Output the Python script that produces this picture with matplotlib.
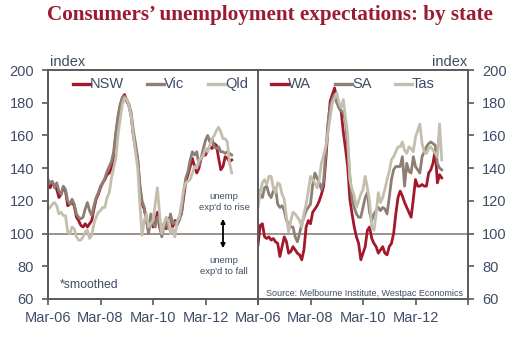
import matplotlib
matplotlib.use("Agg")
import matplotlib.pyplot as plt
from matplotlib.lines import Line2D
from matplotlib.patches import FancyArrowPatch

plt.rcParams['font.family'] = ['Liberation Sans', 'DejaVu Sans']

# months since Mar-06
months = list(range(85))
xtick_pos = [0, 24, 48, 72, 96]
xtick_labels = ['Mar-06', 'Mar-08', 'Mar-10', 'Mar-12', '']
yticks = [60, 80, 100, 120, 140, 160, 180, 200]

nsw = [130, 128, 131, 129, 127, 122, 124, 128, 126, 117,
       118, 119, 117, 110, 108, 105, 104, 106, 104, 106,
       108, 115, 121, 124, 128, 131, 133, 136, 137, 140,
       147, 160, 170, 178, 183, 185, 181, 178, 172, 160,
       152, 145, 128, 118, 115, 108, 102, 110, 104, 106,
       113, 104, 100, 106, 103, 109, 110, 104, 108, 107,
       110, 112, 122, 132, 136, 141, 146, 141, 137, 140,
       146, 148, 148, 151, 153, 152, 155, 154, 146, 139,
       141, 147, 146, 144, 145]
vic = [133, 131, 132, 128, 131, 126, 124, 129, 127, 120,
       118, 121, 118, 112, 110, 109, 110, 115, 119, 114,
       111, 117, 122, 125, 129, 131, 134, 138, 141, 144,
       150, 162, 172, 179, 183, 184, 182, 179, 174, 163,
       155, 146, 130, 120, 116, 108, 100, 112, 106, 104,
       110, 106, 98, 104, 107, 103, 112, 106, 107, 105,
       108, 112, 125, 134, 138, 145, 150, 148, 150, 142,
       146, 152, 157, 160, 156, 158, 153, 152, 153, 150,
       150, 149, 150, 149, 148]
qld = [115, 116, 118, 119, 117, 112, 113, 111, 111, 101,
       100, 104, 103, 98, 96, 96, 98, 101, 102, 97,
       99, 106, 110, 113, 114, 116, 116, 122, 125, 134,
       140, 146, 160, 170, 179, 183, 182, 178, 172, 160,
       150, 140, 118, 99, 108, 112, 104, 106, 108, 118,
       128, 112, 100, 106, 110, 108, 100, 103, 98, 107,
       110, 118, 127, 131, 132, 133, 137, 141, 140, 145,
       146, 148, 152, 150, 154, 158, 160, 163, 165, 162,
       158, 158, 156, 143, 137]
wa = [93, 105, 106, 98, 97, 98, 96, 97, 95, 94,
      86, 92, 98, 95, 88, 89, 92, 90, 88, 87,
      84, 90, 104, 108, 106, 113, 115, 117, 120, 124,
      129, 145, 165, 181, 185, 189, 183, 177, 175, 162,
      152, 141, 121, 112, 104, 98, 94, 84, 88, 92,
      102, 104, 97, 94, 92, 88, 90, 92, 88, 87,
      92, 94, 100, 112, 122, 126, 123, 119, 116, 113,
      110, 121, 133, 129, 129, 130, 129, 129, 137, 139,
      143, 151, 131, 136, 134]
sa = [127, 124, 122, 128, 129, 124, 122, 126, 128, 118,
      116, 117, 114, 108, 106, 104, 104, 98, 95, 100,
      106, 110, 114, 116, 118, 130, 137, 134, 131, 127,
      132, 150, 168, 178, 182, 185, 180, 177, 175, 174,
      169, 153, 135, 121, 116, 112, 110, 110, 116, 122,
      125, 113, 108, 112, 114, 116, 114, 116, 115, 112,
      122, 133, 139, 141, 141, 141, 147, 129, 143, 138,
      137, 147, 141, 139, 137, 147, 150, 153, 155, 156,
      155, 154, 143, 140, 139]
tas = [116, 125, 131, 133, 130, 135, 135, 128, 125, 131,
       130, 124, 121, 110, 101, 108, 113, 112, 110, 108,
       104, 112, 118, 126, 135, 133, 131, 128, 133, 143,
       148, 153, 162, 171, 180, 183, 186, 180, 177, 182,
       171, 161, 133, 127, 123, 116, 120, 124, 127, 135,
       128, 120, 104, 102, 112, 125, 119, 122, 127, 133,
       138, 145, 147, 150, 153, 153, 156, 151, 149, 153,
       152, 150, 159, 163, 167, 155, 150, 149, 152, 153,
       151, 149, 147, 167, 145]

RED = '#A3182C'
BROWN = '#8E7F75'
LIGHT = '#C3BEAD'
TXT = '#3E4C66'
SPINE = '#595959'
LW = 2.0

fig = plt.figure(figsize=(5.13, 3.46), dpi=100)
W, H = 513, 346
axL = fig.add_axes([48 / W, 1 - 299 / H, 210 / W, 229 / H])
axR = fig.add_axes([258 / W, 1 - 299 / H, 210 / W, 229 / H])

def fx(px):
    return px / W

def fy(py):
    return 1 - py / H

legend_pos = {'left': [73, 147, 208], 'right': [271, 335, 395]}

for ax, series, names, side in [
        (axL, [nsw, vic, qld], ['NSW', 'Vic', 'Qld'], 'left'),
        (axR, [wa, sa, tas], ['WA', 'SA', 'Tas'], 'right')]:
    ax.axhline(100, color='#958980', lw=1.3, zorder=1)
    for s, c, n, lx in zip(series, [RED, BROWN, LIGHT], names, legend_pos[side]):
        ax.plot(months[:len(s)], s, color=c, lw=LW, zorder=2)
        fig.add_artist(Line2D([fx(lx), fx(lx + 17)], [fy(84), fy(84)], color=c,
                              lw=LW + 0.4, transform=fig.transFigure))
        fig.text(fx(lx + 17), fy(84), n, ha='left', va='center', fontsize=10.5,
                 color=TXT)
    ax.set_xlim(0, 96)
    ax.set_ylim(60, 200)
    ax.set_yticks(yticks)
    ax.set_xticks(xtick_pos)
    ax.set_xticklabels(xtick_labels)
    for sp in ax.spines.values():
        sp.set_color(SPINE)
        sp.set_linewidth(1.4)
    ax.tick_params(axis='x', direction='out', length=4, width=1.2, color=SPINE,
                   labelsize=10.5, labelcolor=TXT, pad=5)
    ax.tick_params(axis='y', direction='out', length=4, width=1.2, color=SPINE,
                   labelsize=10.5, labelcolor=TXT, pad=6)
    if side == 'left':
        ax.yaxis.tick_left()
        ax.spines['right'].set_visible(False)
    else:
        ax.yaxis.tick_right()

fig.text(fx(270), fy(15), 'Consumers\u2019 unemployment expectations: by state',
         ha='center', va='center', family='Liberation Serif', weight='bold',
         fontsize=15.2, color='#9B1B30')
fig.text(fx(50), fy(62), 'index', ha='left', va='center', fontsize=10.5, color=TXT)
fig.text(fx(467), fy(62), 'index', ha='right', va='center', fontsize=10.5, color=TXT)

fig.text(fx(60), fy(285), '*smoothed', ha='left', va='center', fontsize=8.8, color=TXT)
fig.text(fx(224), fy(202), "unemp\nexp'd to rise", ha='center', va='center',
         fontsize=6.8, color=TXT, linespacing=1.2)
fig.text(fx(224), fy(266), "unemp\nexp'd to fall", ha='center', va='center',
         fontsize=6.8, color=TXT, linespacing=1.2)
fig.add_artist(FancyArrowPatch(
    (fx(223), fy(216)), (fx(223), fy(251)), transform=fig.transFigure,
    arrowstyle='<|-|>', mutation_scale=6, color='black', lw=1.3))
fig.text(fx(463), fy(293), 'Source: Melbourne Institute, Westpac Economics',
         ha='right', va='center', fontsize=6.5, color=TXT)

fig.savefig('out.png', dpi=100)
